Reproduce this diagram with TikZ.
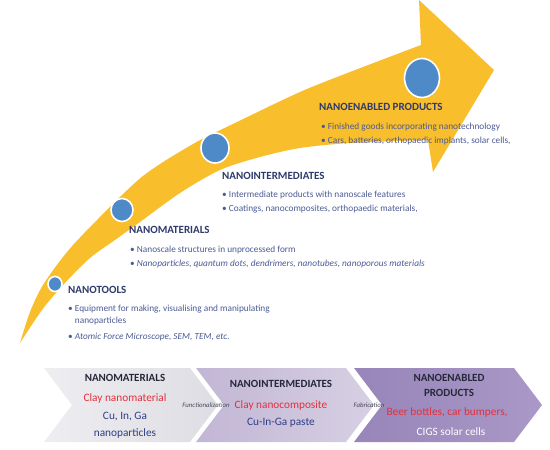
\documentclass[tikz,border=0pt]{standalone}
\usepackage{fontspec}
\setmainfont{Carlito}
\usetikzlibrary{shapes.geometric}
\definecolor{swoosh}{HTML}{F9BE2B}
\definecolor{dotblue}{HTML}{4E8AC8}
\definecolor{headnavy}{HTML}{2E3A6B}
\definecolor{itemblue}{HTML}{4B5A95}
\definecolor{redtxt}{HTML}{E3303C}
\definecolor{bluetxt}{HTML}{2F3D85}
\definecolor{darktxt}{HTML}{26283A}
\definecolor{greyL}{HTML}{EEEEF1}
\definecolor{greyR}{HTML}{DDDDE3}
\definecolor{lavL}{HTML}{C2B6D5}
\definecolor{lavR}{HTML}{D7D0E3}
\definecolor{purL}{HTML}{9885B9}
\definecolor{purR}{HTML}{AA98C8}
\tikzset{
  sdot/.style={ellipse,draw=white,line width=1.6pt,fill=dotblue,inner sep=0pt},
  shead/.style={anchor=west,inner sep=0pt,text=headnavy,font=\bfseries\fontsize{11}{13}\selectfont},
  sitem/.style={anchor=west,inner sep=0pt,text=itemblue,align=left,font=\fontsize{9.3}{12}\selectfont},
  chead/.style={inner sep=0pt,text=darktxt,align=center,font=\bfseries\fontsize{11}{15}\selectfont},
  cline/.style={inner sep=0pt,font=\fontsize{11.3}{13}\selectfont},
  cstep/.style={inner sep=0pt,text=darktxt!85,font=\itshape\fontsize{6.8}{7}\selectfont}
}
\begin{document}
\begin{tikzpicture}[x=1pt,y=-1pt]
  \useasboundingbox (0,0) rectangle (550,450);
  \fill[swoosh] plot[smooth] coordinates {(20,343) (30,312) (43,285) (67,252) (97,220) (143,176)
      (193,144) (237,122) (300,92) (350,72) (421,45)}
    -- (419,0) -- (494,70) -- (433,172) -- (428,140)
    -- plot[smooth] coordinates {(428,140) (350,143) (300,148) (260,157) (220,170) (180,193)
      (140,222) (115,240) (90,258) (64,284) (42,310) (20,343)} -- cycle;
  \node[sdot,minimum width=14pt,minimum height=15pt] (dtl) at (55,284) {};
  \node[sdot,minimum width=22pt,minimum height=23pt] (dma) at (122,210) {};
  \node[sdot,minimum width=28pt,minimum height=30pt] (dim) at (215,148) {};
  \node[sdot,minimum width=35pt,minimum height=39pt] (dep) at (422,78) {};
  \node[shead] (hep) at (319,107) {NANOENABLED PRODUCTS};
  \node[sitem] (iep1) at (321,127) {\textbullet\ Finished goods incorporating nanotechnology};
  \node[sitem] (iep2) at (321,141) {\textbullet\ Cars, batteries, orthopaedic implants, solar cells,};
  \node[shead] (him) at (222,176) {NANOINTERMEDIATES};
  \node[sitem] (iim1) at (222,195) {\textbullet\ Intermediate products with nanoscale features};
  \node[sitem] (iim2) at (222,209) {\textbullet\ Coatings, nanocomposites, orthopaedic materials,};
  \node[shead] (hma) at (129,230) {NANOMATERIALS};
  \node[sitem] (ima1) at (130,250) {\textbullet\ Nanoscale structures in unprocessed form};
  \node[sitem] (ima2) at (130,264) {\textbullet\ \textit{Nanoparticles, quantum dots, dendrimers, nanotubes, nanoporous materials}};
  \node[shead] (htl) at (68,290) {NANOTOOLS};
  \node[sitem,anchor=north west] (itl1) at (68,305) {\textbullet\ Equipment for making, visualising and manipulating\\
    \phantom{\textbullet\ }nanoparticles};
  \node[sitem] (itl2) at (68,337) {\textbullet\ \textit{Atomic Force Microscope, SEM, TEM, etc.}};
  \path[left color=greyL,right color=greyR]
    (44,368) -- (190,368) -- (218,405) -- (190,442) -- (44,442) -- (72,405) -- cycle;
  \path[left color=lavL,right color=lavR]
    (196,368) -- (346,368) -- (374,405) -- (346,442) -- (196,442) -- (224,405) -- cycle;
  \path[left color=purL,right color=purR]
    (354,368) -- (514,368) -- (542,405) -- (514,442) -- (354,442) -- (382,405) -- cycle;
  \node[chead] (cma) at (125,378) {NANOMATERIALS};
  \node[cline,text=redtxt] (cma1) at (125,398) {Clay nanomaterial};
  \node[cline,text=bluetxt] (cma2) at (125,417) {Cu, In, Ga};
  \node[cline,text=bluetxt] (cma3) at (125,433) {nanoparticles};
  \node[chead] (cim) at (281,384) {NANOINTERMEDIATES};
  \node[cline,text=redtxt] (cim1) at (281,405) {Clay nanocomposite};
  \node[cline,text=bluetxt] (cim2) at (281,423) {Cu-In-Ga paste};
  \node[chead] (cep) at (449,385) {NANOENABLED\\PRODUCTS};
  \node[cline,text=redtxt] (cep1) at (447,412) {Beer bottles, car bumpers,};
  \node[cline,text=white] (cep2) at (451,432) {CIGS solar cells};
  \node[cstep] (sfun) at (206,405) {Functionalization};
  \node[cstep] (sfab) at (369,405) {Fabrication};
\end{tikzpicture}
\end{document}
